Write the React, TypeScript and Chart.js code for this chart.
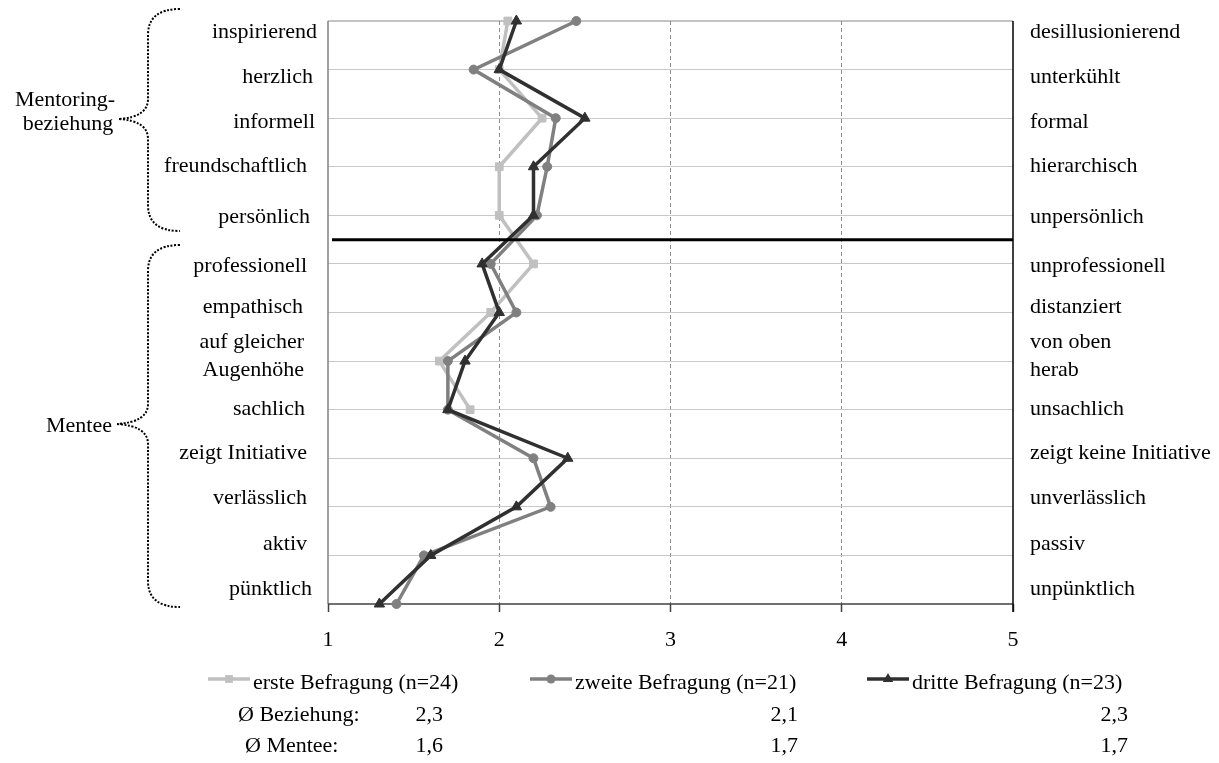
import React, { useEffect, useRef } from 'react';
import { Chart, registerables } from 'chart.js';

Chart.register(...registerables);

// ---------- data ----------
const leftLabels: string[][] = [
  ['inspirierend'], ['herzlich'], ['informell'], ['freundschaftlich'], ['persönlich'],
  ['professionell'], ['empathisch'], ['auf gleicher', 'Augenhöhe'], ['sachlich'],
  ['zeigt Initiative'], ['verlässlich'], ['aktiv'], ['pünktlich'],
];
const rightLabels: string[][] = [
  ['desillusionierend'], ['unterkühlt'], ['formal'], ['hierarchisch'], ['unpersönlich'],
  ['unprofessionell'], ['distanziert'], ['von oben', 'herab'], ['unsachlich'],
  ['zeigt keine Initiative'], ['unverlässlich'], ['passiv'], ['unpünktlich'],
];
const ersteBefragung: (number | null)[] = [2.05, 2.0, 2.25, 2.0, 2.0, 2.2, 1.95, 1.65, 1.83, null, null, null, null];
const zweiteBefragung: (number | null)[] = [2.45, 1.85, 2.33, 2.28, 2.22, 1.95, 2.1, 1.7, 1.7, 2.2, 2.3, 1.56, 1.4];
const dritteBefragung: (number | null)[] = [2.1, 2.0, 2.5, 2.2, 2.2, 1.9, 2.0, 1.8, 1.7, 2.4, 2.1, 1.6, 1.3];
const seriesNames = ['erste Befragung (n=24)', 'zweite Befragung (n=21)', 'dritte Befragung (n=23)'];
const avgRowLabels = ['Ø Beziehung:', 'Ø Mentee:'];
const avgBeziehung = ['2,3', '2,1', '2,3'];
const avgMentee = ['1,6', '1,7', '1,7'];
const xTicks = [1, 2, 3, 4, 5];
const groupLabels: string[][] = [['Mentoring-', 'beziehung'], ['Mentee']];
const separatorAfterRow = 4.5;

// ---------- layout / style ----------
const W = 1219;
const H = 763;
const FONT = '"Liberation Serif", "Times New Roman", serif';
const FS = 22;
const colors = ['#c0c0c0', '#808080', '#303030'];
const pointStyles = ['rect', 'circle', 'triangle'];
const pointRadii = [5.5, 4.5, 6];
const labelBaselines = [38, 83, 128, 172, 223, 272, 313, 348, 415, 459, 504, 550, 595];
const leftRightEdges = [317, 313, 315, 307, 310, 307, 303, 304, 305, 307, 307, 307, 312];
const rightLabelX = 1030;
const lineGap = 28;
const legendX = [208, 530, 867];
const legendLineY = 679;
const legendTextY = 689;
const avgRowY = [721, 752];
const avgLabelX = [238, 245];
const avgValueRight = [443, 798, 1128];

function toPoints(vals: (number | null)[]) {
  const out: { x: number; y: number }[] = [];
  vals.forEach((v, i) => {
    if (v !== null) out.push({ x: v, y: i });
  });
  return out;
}

function seg(ctx: CanvasRenderingContext2D, x1: number, y1: number, x2: number, y2: number, color: string, w: number) {
  ctx.beginPath();
  ctx.strokeStyle = color;
  ctx.lineWidth = w;
  ctx.moveTo(x1, y1);
  ctx.lineTo(x2, y2);
  ctx.stroke();
}

function marker(ctx: CanvasRenderingContext2D, style: string, x: number, y: number, r: number, color: string) {
  ctx.fillStyle = color;
  ctx.beginPath();
  if (style === 'rect') {
    const s = r * Math.SQRT1_2;
    ctx.rect(x - s, y - s, 2 * s, 2 * s);
  } else if (style === 'circle') {
    ctx.arc(x, y, r, 0, Math.PI * 2);
  } else {
    const h = r * 1.5;
    const half = r * 0.866;
    ctx.moveTo(x, y - r);
    ctx.lineTo(x + half * 1.0, y - r + h);
    ctx.lineTo(x - half * 1.0, y - r + h);
    ctx.closePath();
  }
  ctx.fill();
}

function brace(ctx: CanvasRenderingContext2D, xEnd: number, xMid: number, xTip: number, yTop: number, yTip: number, yBot: number) {
  ctx.save();
  ctx.setLineDash([2, 1.6]);
  ctx.lineWidth = 2;
  ctx.strokeStyle = '#000';
  ctx.beginPath();
  ctx.moveTo(xEnd, yTop);
  ctx.quadraticCurveTo(xMid, yTop, xMid, yTop + 26);
  ctx.lineTo(xMid, yTip - 20);
  ctx.quadraticCurveTo(xMid, yTip - 2, xTip, yTip);
  ctx.moveTo(xTip, yTip);
  ctx.quadraticCurveTo(xMid, yTip + 2, xMid, yTip + 20);
  ctx.lineTo(xMid, yBot - 26);
  ctx.quadraticCurveTo(xMid, yBot, xEnd, yBot);
  ctx.stroke();
  ctx.restore();
}

const framePlugin = {
  id: 'frame',
  beforeDatasetsDraw(chart: any) {
    const { ctx, chartArea: a } = chart;
    ctx.save();
    seg(ctx, a.left, a.top, a.right, a.top, '#8a8a8a', 1.2);
    seg(ctx, a.left, a.top, a.left, a.bottom, '#808080', 1.5);
    seg(ctx, a.left, a.bottom, a.right, a.bottom, '#404040', 1.5);
    seg(ctx, a.right, a.top, a.right, a.bottom + 8, '#000000', 1.5);
    ctx.restore();
  },
  afterDatasetsDraw(chart: any) {
    const { ctx, chartArea: a } = chart;
    const y = chart.scales.y.getPixelForValue(separatorAfterRow);
    ctx.save();
    seg(ctx, a.left + 4, y, a.right, y, '#000000', 3);
    ctx.restore();
  },
  afterDraw(chart: any) {
    const ctx: CanvasRenderingContext2D = chart.ctx;
    ctx.save();
    ctx.font = `${FS}px ${FONT}`;
    ctx.fillStyle = '#000';
    ctx.textBaseline = 'alphabetic';

    // left/right category labels
    leftLabels.forEach((lines, i) => {
      ctx.textAlign = 'right';
      lines.forEach((t, k) => ctx.fillText(t, leftRightEdges[i], labelBaselines[i] + k * lineGap));
    });
    rightLabels.forEach((lines, i) => {
      ctx.textAlign = 'left';
      lines.forEach((t, k) => ctx.fillText(t, rightLabelX, labelBaselines[i] + k * lineGap));
    });

    // group labels
    ctx.textAlign = 'center';
    ctx.fillText(groupLabels[0][0], 65, 106);
    ctx.fillText(groupLabels[0][1], 68, 130);
    ctx.textAlign = 'right';
    ctx.fillText(groupLabels[1][0], 112, 432);

    // braces
    brace(ctx, 180, 148, 119, 9, 119, 231);
    brace(ctx, 180, 148, 117, 245, 424, 607);

    // legend
    seriesNames.forEach((name, i) => {
      const x0 = legendX[i];
      ctx.save();
      seg(ctx, x0, legendLineY, x0 + 42, legendLineY, colors[i], 3.5);
      marker(ctx, pointStyles[i], x0 + 21, legendLineY, pointRadii[i], colors[i]);
      ctx.restore();
      ctx.fillStyle = '#000';
      ctx.textAlign = 'left';
      ctx.font = `${FS}px ${FONT}`;
      ctx.fillText(name, x0 + 45, legendTextY);
    });

    // averages
    ctx.textAlign = 'left';
    avgRowLabels.forEach((t, r) => ctx.fillText(t, avgLabelX[r], avgRowY[r]));
    ctx.textAlign = 'right';
    avgBeziehung.forEach((t, i) => ctx.fillText(t, avgValueRight[i], avgRowY[0]));
    avgMentee.forEach((t, i) => ctx.fillText(t, avgValueRight[i], avgRowY[1]));
    ctx.restore();
  },
};

export default function App() {
  const ref = useRef<HTMLCanvasElement | null>(null);

  useEffect(() => {
    if (!ref.current) return;
    const all = [ersteBefragung, zweiteBefragung, dritteBefragung];
    const chart = new Chart(ref.current, {
      type: 'line',
      data: {
        datasets: all.map((vals, i) => ({
          label: seriesNames[i],
          data: toPoints(vals),
          borderColor: colors[i],
          backgroundColor: colors[i],
          borderWidth: 3.5,
          pointStyle: pointStyles[i] as any,
          pointRadius: pointRadii[i],
          pointBackgroundColor: colors[i],
          pointBorderColor: colors[i],
          pointBorderWidth: 1,
          tension: 0,
          fill: false,
          clip: false as any,
          order: 3 - i,
        })),
      },
      options: {
        animation: false,
        responsive: false,
        devicePixelRatio: 1,
        events: [],
        layout: { padding: { left: 328, right: W - 1013, top: 21, bottom: H - 604 - 50 } },
        plugins: { legend: { display: false }, tooltip: { enabled: false } },
        scales: {
          x: {
            type: 'linear',
            position: 'bottom',
            min: 1,
            max: 5,
            afterBuildTicks: (s: any) => {
              s.ticks = xTicks.map((v) => ({ value: v }));
            },
            afterFit: (s: any) => {
              s.height = 50;
            },
            ticks: {
              color: '#000',
              font: { family: FONT, size: FS },
              padding: 15,
              maxRotation: 0,
              autoSkip: false,
            },
            grid: {
              color: (c: any) => ([2, 3, 4].includes(c.tick?.value) ? '#8c8c8c' : 'rgba(0,0,0,0)'),
              lineWidth: 1,
              tickColor: '#404040',
              tickLength: 8,
              tickWidth: 1.5,
              borderDash: [4, 3],
            } as any,
            border: { display: false, dash: [4, 3] },
          },
          y: {
            type: 'linear',
            position: 'left',
            reverse: true,
            min: 0,
            max: 12,
            ticks: { display: false, stepSize: 1 },
            afterFit: (s: any) => {
              s.width = 0;
            },
            grid: {
              color: (c: any) => (c.tick?.value === 0 || c.tick?.value === 12 ? 'rgba(0,0,0,0)' : '#c8c8c8'),
              lineWidth: 1,
              drawTicks: false,
            },
            border: { display: false },
          },
        },
      },
      plugins: [framePlugin],
    });
    return () => chart.destroy();
  }, []);

  return (
    <div style={{ position: 'absolute', left: 0, top: 0, width: W, height: H, background: '#fff' }}>
      <canvas ref={ref} width={W} height={H} style={{ display: 'block', width: W, height: H }} />
    </div>
  );
}
